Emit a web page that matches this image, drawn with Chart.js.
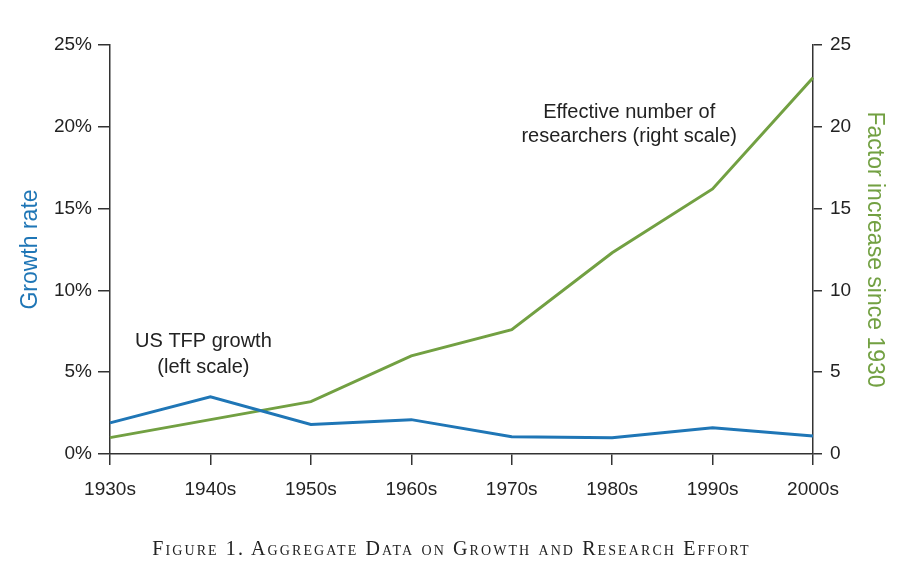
<!DOCTYPE html>
<html>
<head>
<meta charset="utf-8">
<script src="https://cdn.jsdelivr.net/npm/chart.js@4/dist/chart.umd.min.js"></script>
<style>
  body { margin: 0; background: #fff; }
  #wrap { position: relative; width: 903px; height: 580px; }
  #caption {
    position: absolute; left: 0; top: 537px; width: 903px;
    text-align: center; font-family: "Liberation Serif", serif;
    font-size: 20px; letter-spacing: 2.1px; font-variant: small-caps; color: #222;
  }
</style>
</head>
<body>
<div id="wrap">
  <canvas id="myChart" width="903" height="580"></canvas>
  <div id="caption">Figure 1. Aggregate Data on Growth and Research Effort</div>
</div>
<script>
// Data
const decades = ["1930s", "1940s", "1950s", "1960s", "1970s", "1980s", "1990s", "2000s"];
const tfpGrowth = [1.9, 3.5, 1.8, 2.1, 1.05, 1.0, 1.6, 1.1];       // % (left scale)
const researchers = [1.0, 2.1, 3.2, 6.0, 7.6, 12.3, 16.2, 23.0];    // factor (right scale)
const leftTicks = [0, 5, 10, 15, 20, 25];

const BLUE = "#1f76b6";
const GREEN = "#72a042";
const AXIS = "#333";
const FONT = "'Liberation Sans', Arial, sans-serif";

// Text labels next to the lines
const notes = [
  { lines: ["US TFP growth", "(left scale)"], x: 0.93, y: [6.85, 5.27] },
  { lines: ["Effective number of", "researchers (right scale)"], x: 5.17, y: [20.85, 19.4] },
];

const notePlugin = {
  id: "notes",
  afterDatasetsDraw(chart) {
    const { ctx, scales } = chart;
    ctx.save();
    ctx.font = "20px " + FONT;
    ctx.fillStyle = "#222";
    ctx.textAlign = "center";
    ctx.textBaseline = "middle";
    notes.forEach((n) => {
      const px = scales.x.getPixelForValue(n.x);
      n.lines.forEach((t, i) => {
        ctx.fillText(t, px, scales.y.getPixelForValue(n.y[i]));
      });
    });
    ctx.restore();
  },
};

document.addEventListener("DOMContentLoaded", function () {
  const ctx = document.getElementById("myChart");

  new Chart(ctx, {
    type: "line",
    data: {
      labels: decades,
      datasets: [
        {
          label: "US TFP growth",
          data: tfpGrowth,
          yAxisID: "y",
          borderColor: BLUE,
          borderWidth: 3,
          pointRadius: 0,
          tension: 0,
        },
        {
          label: "Effective number of researchers",
          data: researchers,
          yAxisID: "y1",
          borderColor: GREEN,
          borderWidth: 3,
          pointRadius: 0,
          tension: 0,
        },
      ],
    },
    options: {
      responsive: false,
      animation: false,
      layout: { padding: { top: 45, left: 17, right: 15, bottom: 0 } },
      plugins: {
        legend: { display: false },
        tooltip: { enabled: false },
      },
      scales: {
        x: {
          offset: false,
          border: { color: AXIS, width: 1.5 },
          grid: { drawOnChartArea: false, tickLength: 11, color: AXIS, lineWidth: 1.5, offset: false },
          ticks: { color: "#222", font: { family: FONT, size: 19 }, padding: 13, maxRotation: 0 },
          afterFit(scale) { scale.height = 126; },
        },
        y: {
          position: "left",
          min: 0,
          max: 25,
          afterBuildTicks(scale) { scale.ticks = leftTicks.map((v) => ({ value: v })); },
          border: { color: AXIS, width: 1.5 },
          grid: { drawOnChartArea: false, tickLength: 12, color: AXIS, lineWidth: 1.5 },
          ticks: {
            color: "#222",
            font: { family: FONT, size: 19 },
            padding: 6,
            callback: (v) => v + "%",
          },
          title: {
            display: true,
            text: "Growth rate",
            color: BLUE,
            font: { family: FONT, size: 23 },
            padding: 0,
          },
          afterFit(scale) { scale.width = 93; },
        },
        y1: {
          position: "right",
          min: 0,
          max: 25,
          border: { color: AXIS, width: 1.5 },
          grid: { drawOnChartArea: false, tickLength: 9, color: AXIS, lineWidth: 1.5 },
          ticks: { color: "#222", font: { family: FONT, size: 19 }, padding: 8, stepSize: 5 },
          title: {
            display: true,
            text: "Factor increase since 1930",
            color: GREEN,
            font: { family: FONT, size: 23 },
            padding: 0,
          },
          afterFit(scale) { scale.width = 75; },
        },
      },
    },
    plugins: [notePlugin],
  });
});
</script>
</body>
</html>
